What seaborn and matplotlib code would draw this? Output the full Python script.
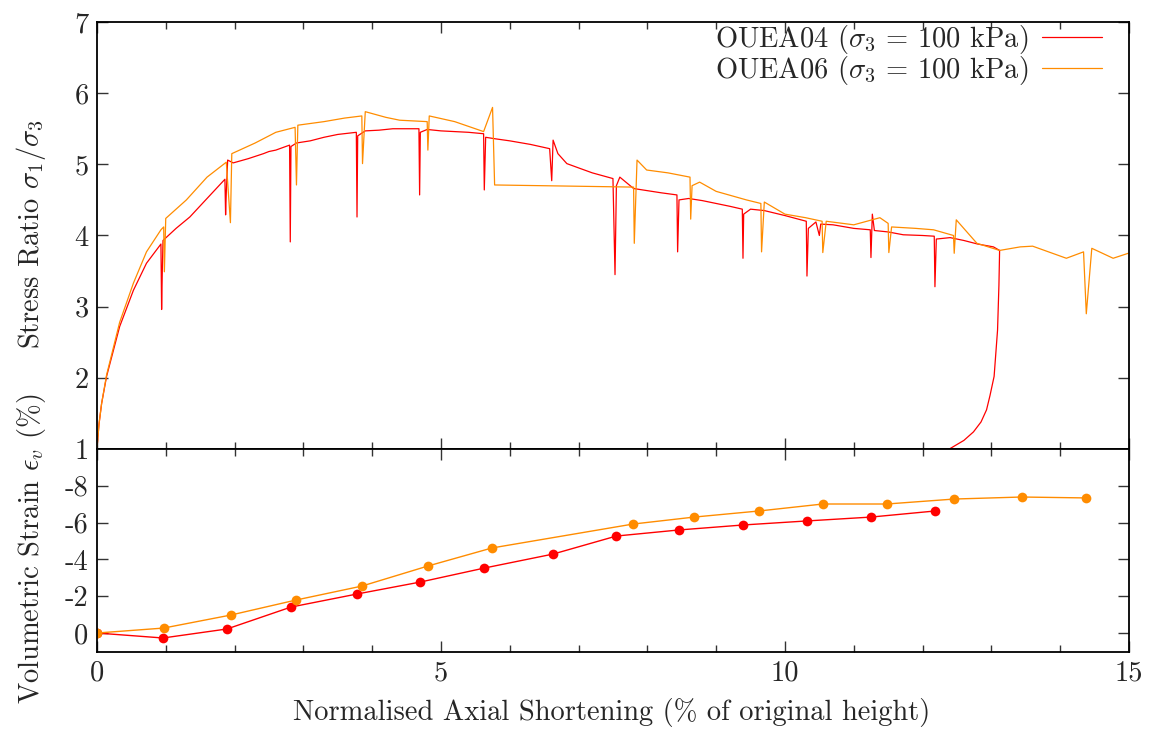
import numpy as np
import pandas as pd
import matplotlib
matplotlib.use("Agg")
import matplotlib.pyplot as plt
import seaborn as sns
from matplotlib.ticker import MultipleLocator

# --- data ---
# OUEA04 stress ratio (axial shortening %, sigma1/sigma3)
red_x = [0, 0.03, 0.068, 0.14, 0.33, 0.53, 0.72, 0.93, 0.94, 0.95, 0.96, 1.15, 1.35, 1.6, 1.86,
         1.87, 1.88, 1.9, 1.98, 2.2, 2.42, 2.5, 2.6, 2.8, 2.81, 2.82, 2.9, 3.1, 3.3, 3.5, 3.77,
         3.78, 3.79, 3.9, 4.1, 4.3, 4.5, 4.68, 4.69, 4.70, 4.8, 5.0, 5.2, 5.4, 5.62, 5.63, 5.65,
         5.78, 6.0, 6.3, 6.58, 6.61, 6.63, 6.7, 6.83, 7.0, 7.2, 7.5, 7.53, 7.55, 7.6, 7.8, 8.0,
         8.2, 8.43, 8.44, 8.46, 8.6, 8.8, 9.0, 9.2, 9.38, 9.39, 9.40, 9.5, 9.7, 10.0, 10.31,
         10.32, 10.34, 10.45, 10.5, 10.52, 10.7, 11.0, 11.24, 11.25, 11.27, 11.3, 11.5, 11.72,
         12.0, 12.17, 12.18, 12.2, 12.4, 12.6, 12.8, 13.03, 13.12, 13.11, 13.09, 13.04, 12.98,
         12.93, 12.85, 12.74, 12.6, 12.39]
red_y = [1.0, 1.35, 1.64, 2.02, 2.72, 3.23, 3.61, 3.88, 2.96, 3.5, 3.93, 4.1, 4.26, 4.52, 4.79,
         4.29, 4.6, 5.06, 5.02, 5.08, 5.15, 5.18, 5.2, 5.27, 3.91, 5.25, 5.3, 5.33, 5.38, 5.42, 5.45,
         4.26, 5.4, 5.47, 5.48, 5.5, 5.5, 5.5, 4.57, 5.45, 5.49, 5.47, 5.46, 5.45, 5.43, 4.64, 5.38,
         5.36, 5.33, 5.28, 5.22, 4.77, 5.34, 5.15, 5.01, 4.95, 4.88, 4.80, 3.45, 4.7, 4.82, 4.66, 4.63,
         4.6, 4.57, 3.77, 4.5, 4.52, 4.49, 4.45, 4.41, 4.37, 3.68, 4.3, 4.37, 4.35, 4.28, 4.2,
         3.43, 4.1, 4.19, 4.0, 4.16, 4.15, 4.1, 4.08, 3.69, 4.30, 4.07, 4.05, 4.01,
         4.0, 3.99, 3.28, 3.95, 3.97, 3.93, 3.88, 3.84, 3.79, 3.3, 2.67, 2.02, 1.75,
         1.55, 1.38, 1.24, 1.12, 1.0]

# OUEA06 stress ratio
orange_x = [0, 0.03, 0.068, 0.14, 0.33, 0.53, 0.72, 0.93, 0.97, 0.98, 1.0, 1.3, 1.6, 1.88,
            1.94, 1.96, 2.3, 2.6, 2.88, 2.90, 2.92, 3.3, 3.6, 3.85, 3.86, 3.9, 4.2, 4.4, 4.8,
            4.81, 4.83, 5.2, 5.5, 5.62, 5.75, 5.78, 7.80, 7.81, 7.85, 7.99, 8.3, 8.62, 8.63,
            8.65, 8.76, 9.0, 9.44, 9.65, 9.66, 9.7, 10.0, 10.3, 10.54, 10.55, 10.6, 11.0, 11.38,
            11.5, 11.51, 11.55, 11.9, 12.16, 12.45, 12.46, 12.49, 12.79, 13.12, 13.42, 13.6,
            14.09, 14.34, 14.38, 14.46, 14.77, 14.99]
orange_y = [1.0, 1.35, 1.64, 2.04, 2.78, 3.33, 3.77, 4.08, 4.12, 3.49, 4.24, 4.5, 4.82, 5.03,
            4.18, 5.15, 5.3, 5.45, 5.52, 4.71, 5.55, 5.6, 5.65, 5.68, 5.01, 5.74, 5.66, 5.62, 5.6,
            5.2, 5.68, 5.6, 5.5, 5.46, 5.8, 4.71, 4.68, 3.89, 5.06, 4.92, 4.88, 4.82, 4.23,
            4.7, 4.75, 4.62, 4.50, 4.45, 3.77, 4.47, 4.3, 4.25, 4.2, 3.76, 4.2, 4.15, 4.25,
            4.17, 3.76, 4.12, 4.1, 4.08, 4.0, 3.75, 4.22, 3.89, 3.79, 3.84, 3.85,
            3.68, 3.77, 2.90, 3.82, 3.68, 3.75]

# volumetric strain (%)
red_vx = [0, 0.96, 1.89, 2.82, 3.78, 4.70, 5.63, 6.63, 7.55, 8.46, 9.39, 10.32, 11.25, 12.18]
red_vy = [0, 0.27, -0.22, -1.41, -2.12, -2.77, -3.53, -4.29, -5.27, -5.60, -5.87, -6.09, -6.30, -6.63]
orange_vx = [0, 0.97, 1.95, 2.89, 3.85, 4.81, 5.74, 7.79, 8.68, 9.62, 10.55, 11.48, 12.46, 13.44, 14.38]
orange_vy = [0, -0.27, -0.98, -1.79, -2.55, -3.64, -4.62, -5.92, -6.30, -6.63, -7.01, -7.01, -7.28, -7.39, -7.34]

labels = [r"OUEA04 ($\sigma_3$ = 100 kPa)", r"OUEA06 ($\sigma_3$ = 100 kPa)"]
colors = ["#ff0000", "#ff8c00"]

# --- style ---
sns.set_theme(style="ticks")
plt.rcParams['font.family'] = ['cmr10', 'DejaVu Serif']
plt.rcParams['mathtext.fontset'] = 'cm'
plt.rcParams['axes.unicode_minus'] = False
plt.rcParams['axes.formatter.use_mathtext'] = True
fs = 20.5

fig = plt.figure(figsize=(11.5, 7.31), dpi=100)
ax1 = fig.add_axes([0.0843, 0.3858, 0.8974, 0.5841])
ax2 = fig.add_axes([0.0843, 0.1081, 0.8974, 0.2777])

sns.lineplot(x=red_x, y=red_y, ax=ax1, color=colors[0], lw=0.9, sort=False, estimator=None, label=labels[0])
sns.lineplot(x=orange_x, y=orange_y, ax=ax1, color=colors[1], lw=0.9, sort=False, estimator=None, label=labels[1])

sns.lineplot(x=red_vx, y=red_vy, ax=ax2, color=colors[0], lw=1.0, sort=False, estimator=None,
             marker='o', markersize=7, markeredgewidth=0, legend=False)
sns.lineplot(x=orange_vx, y=orange_vy, ax=ax2, color=colors[1], lw=1.0, sort=False, estimator=None,
             marker='o', markersize=7, markeredgewidth=0, legend=False)

for ax in (ax1, ax2):
    ax.set_xlim(0, 15)
    ax.xaxis.set_major_locator(MultipleLocator(5))
    ax.xaxis.set_minor_locator(MultipleLocator(1))
    ax.tick_params(which='both', direction='in', top=True, right=True, labelsize=fs, color='#333333')
    ax.tick_params(which='major', length=8, width=1, pad=6)
    ax.tick_params(which='minor', length=5, width=1)
    for s in ax.spines.values():
        s.set_linewidth(1.3)
        s.set_color('black')
    ax.set_xlabel('')
    ax.set_ylabel('')

ax1.set_ylim(1, 7)
ax1.set_yticks([1, 2, 3, 4, 5, 6, 7])
ax1.set_yticklabels(['1', '2', '3', '4', '5', '6', '7'])
ax1.set_xticklabels([])

ax2.set_ylim(1.03, -10)
ax2.set_yticks([0, -2, -4, -6, -8])
ax2.set_yticklabels(['0', '-2', '-4', '-6', '-8'])
ax2.set_xticks([0, 5, 10, 15])
ax2.set_xticklabels(['0', '5', '10', '15'])

leg = ax1.legend(loc='upper right', frameon=False, fontsize=fs, markerfirst=False,
                 handlelength=2.1, labelspacing=-0.05, borderaxespad=0.0, handletextpad=0.5,
                 bbox_to_anchor=(0.985, 1.025))

fig.text(0.027, 0.68, r"Stress Ratio $\sigma_1/\sigma_3$", rotation=90, ha='center', va='center', fontsize=fs)
fig.text(0.027, 0.25, r"Volumetric Strain $\epsilon_v$ (%)", rotation=90, ha='center', va='center', fontsize=fs)
fig.text(0.532, 0.025, "Normalised Axial Shortening (% of original height)", ha='center', va='center', fontsize=fs)

fig.savefig("out.png", dpi=100)
